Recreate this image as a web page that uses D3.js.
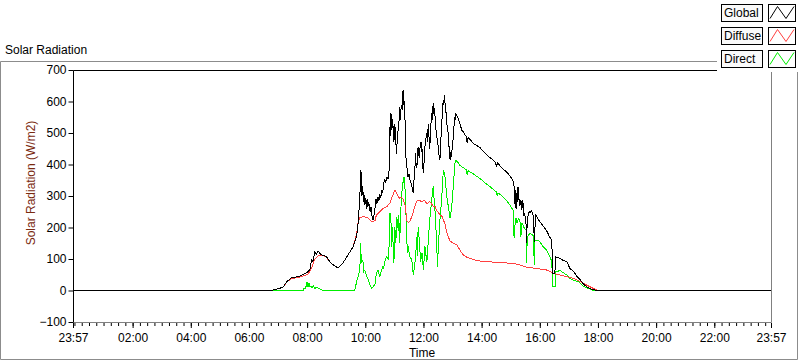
<!DOCTYPE html>
<html>
<head>
<meta charset="utf-8">
<script src="https://cdn.jsdelivr.net/npm/d3@7"></script>
<style>
  html, body { margin: 0; padding: 0; background: #ffffff; }
  svg { display: block; font-family: "Liberation Sans", Arial, sans-serif; }
</style>
</head>
<body>
<svg id="chart" width="800" height="361"></svg>
<script>
// ---- Data (time in minutes after midnight, value in W/m2) ----
const seriesNames = ["Global", "Diffuse", "Direct"];
const seriesColors = ["#000000", "#ff4040", "#00ee00"];

const globalData = [[-3,0],[403,0],[414,3],[424,7],[431,12],[438,28],[448,41],[462,44],[472,51],[482,60],[486,68],[489,97],[492,92],[496,123],[499,116],[503,125],[507,117],[510,113],[515,112],[520,107],[527,91],[534,81],[541,74],[544,73],[548,77],[555,90],[562,107],[568,122],[575,139],[582,171],[586,224],[589,309],[591,383],
[593,300],[595,330],[596,280],[597,310],[599,270],[601,295],[603,260],[604,290],[605,265],[607,280],[610,250],[612,265],[614,235],[616,224],[618,240],[620,260],[622,290],[624,275],[626,298],[628,285],[630,305],[632,295],[634,320],[636,310],[638,340],[640,351],[642,345],[645,360],[647,355],[649,380],
[650,430],[651,520],[652,490],[653,562],[654,540],[655,510],[656,545],[657,530],[658,490],[659,470],[660,500],[661,530],[663,470],[665,435],[666,500],[667,480],[668,530],[669,510],[670,560],[671,583],[672,550],[673,541],[674,590],[676,573],[677,610],[678,637],[679,590],[680,600],[681,560],[682,541],[683,450],[684,420],[685,404],[688,361],[690,370],[692,351],[694,345],[696,330],[699,309],
[700,340],[701,360],[702,372],[703,410],[704,435],[705,390],[707,400],[708,440],[709,457],[710,430],[712,420],[713,455],[715,470],[716,440],[717,450],[718,400],[720,372],[721,400],[722,430],[723,457],[725,480],[727,499],[728,470],[730,530],[731,500],[733,450],[735,520],[737,562],[738,540],[740,594],[741,560],[743,580],[745,520],[747,499],[749,470],[751,457],[752,430],[754,414],[756,480],[758,531],[759,570],[761,605],[762,590],[763,620],[764,600],[766,583],[767,550],[768,531],[770,510],[771,500],[773,450],[775,414],[776,440],[778,425],[780,470],[782,488],[783,520],[785,552],[786,540],[787,562],
[792,545],[795,531],[799,509],[802,504],[806,494],[809,488],[810,470],[812,485],[816,480],[823,467],[830,460],[837,453],[843,442],[850,432],[857,422],[863,415],[867,410],[871,395],[873,405],[878,396],[885,385],[892,375],[898,365],[905,348],[907,330],[908,275],[909,320],[911,260],[912,310],[913,280],[915,330],[917,290],[919,270],[921,287],[923,256],[925,287],[927,240],[929,245],[932,205],[933,150],[934,224],[936,240],[938,250],[940,248],[943,252],[946,240],[949,155],[950,200],[952,240],[956,229],[960,218],[967,205],[974,190],[981,168],[985,158],[986,55],[991,55],[993,107],[1002,102],[1008,96],[1016,91],[1022,70],[1029,62],[1036,46],[1043,35],[1050,20],[1057,12],[1064,6],[1072,2],[1081,0],[1437,0]];

const diffuseData = [[-3,0],[403,0],[414,3],[424,7],[431,12],[438,27],[448,38],[462,41],[472,46],[482,52],[489,70],[496,100],[503,110],[510,110],[515,110],[520,105],[527,91],[534,81],[541,74],[544,73],[548,77],[555,90],[562,107],[568,122],[575,139],[582,180],[585,213],[589,232],
[596,234],[604,232],[610,224],[613,218],[620,222],[623,240],[630,250],[637,261],[644,266],[651,277],[654,293],[657,303],[661,319],[665,308],[668,298],[671,293],[675,295],[678,290],[682,270],[684,245],[685,224],[689,215],[692,220],[696,235],[699,250],[702,266],[706,282],[709,287],[716,283],[723,285],[727,275],[733,282],[740,268],[744,266],[747,255],[754,240],[758,236],[761,224],[764,213],[768,187],[771,171],[775,157],[782,150],[789,144],[795,129],[802,113],[809,106],[816,102],[830,95],[850,91],[871,90],[885,88],[905,86],[919,81],[933,74],[954,70],[974,65],[988,55],[1002,49],[1016,44],[1029,39],[1043,28],[1057,17],[1070,7],[1081,0],[1437,0]];

const directData = [[-3,0],[403,0],[472,0],[474,8],[476,5],[478,14],[480,28],[481,20],[482,10],[484,23],[486,12],[488,15],[490,8],[493,14],[496,7],[500,10],[504,6],[508,4],[512,0],[578,0],
[579,7],[583,33],[587,55],[589,75],[590,150],[592,90],[595,97],[597,61],[599,65],[603,44],[605,40],[610,17],[613,7],[616,12],[620,20],[623,55],[626,65],[630,45],[632,55],[636,76],[638,70],[640,91],[644,107],[647,100],[649,140],[651,245],[653,220],[654,139],[656,200],[657,160],[659,86],[661,200],[663,150],[665,234],[668,190],[669,240],[671,150],[673,250],[676,320],[678,345],[680,361],[683,300],[685,181],[687,118],[689,140],[691,110],[696,97],[699,49],[701,70],[704,110],[706,171],[708,110],[709,203],[712,150],[714,90],[717,120],[720,65],[723,140],[727,90],[730,160],[733,224],[737,287],[740,330],[744,250],[747,160],[749,76],[751,150],[754,224],[758,300],[761,383],[764,370],[768,298],[771,270],[775,229],[778,260],[782,340],[785,404],[787,414],[792,405],[795,398],[802,390],[809,383],[810,368],[812,380],[823,370],[837,355],[850,338],[857,330],[863,322],[871,312],[872,300],[874,310],[885,296],[892,285],[898,272],[905,255],[907,166],[909,210],[911,230],[913,215],[916,228],[919,224],[921,171],[923,215],[926,205],[929,195],[932,192],[933,86],[934,171],[940,181],[946,175],[949,81],[950,160],[956,160],[960,155],[967,139],[974,128],[981,107],[985,91],[986,12],[992,12],[993,60],[1002,63],[1008,57],[1016,49],[1022,39],[1029,33],[1040,28],[1050,14],[1064,4],[1070,0],[1437,0]];

const xTickMinutes = [-3,120,240,360,480,600,720,840,960,1080,1200,1320,1437];
const xTickLabels = ["23:57","02:00","04:00","06:00","08:00","10:00","12:00","14:00","16:00","18:00","20:00","22:00","23:57"];
const yTickValues = [-100,0,100,200,300,400,500,600,700];

// ---- Layout ----
const svg = d3.select("#chart");
const L = 73, R = 771, T = 70, B = 322;
const x = d3.scaleLinear().domain([-3, 1437]).range([L, R]);
const y = d3.scaleLinear().domain([-100, 700]).range([B, T]);

// outer frame
svg.append("path").attr("d", `M0.5,359.5 V61.5 H717`).attr("fill","none").attr("stroke","#8c8c8c");
svg.append("path").attr("d", `M0.5,359.5 H797.5 V72`).attr("fill","none").attr("stroke","#8c8c8c");

svg.append("text").attr("x", 5).attr("y", 54).attr("font-size", 12).attr("fill","#000").text("Solar Radiation");

// plot background
svg.append("rect").attr("x", L).attr("y", T).attr("width", R-L).attr("height", B-T).attr("fill","#ffffff");

// clip
svg.append("clipPath").attr("id","clip").append("rect").attr("x", L).attr("y", T).attr("width", R-L).attr("height", B-T);

const line = d3.line().x(d => x(d[0])).y(d => y(d[1]));
const plotG = svg.append("g").attr("clip-path","url(#clip)");
[[directData, seriesColors[2]], [diffuseData, seriesColors[1]], [globalData, seriesColors[0]]].forEach(([data, col]) => {
  plotG.append("path").datum(data).attr("d", line).attr("fill","none").attr("stroke", col)
    .attr("stroke-width", 1).attr("stroke-linejoin","miter").attr("shape-rendering","crispEdges");
});

// plot border
svg.append("path").attr("d", `M${L+0.5},${B} V${T+0.5} H${R}`).attr("fill","none").attr("stroke","#000");
svg.append("path").attr("d", `M${R+0.5},${T} V${B+0.5} H${L}`).attr("fill","none").attr("stroke","#808080");

// y axis
const yAxis = d3.axisLeft(y).tickValues(yTickValues).tickSize(5).tickSizeOuter(0).tickPadding(2);
const yG = svg.append("g").attr("transform", `translate(${L+0.5},0)`).call(yAxis);
yG.select(".domain").remove();
yG.selectAll("text").attr("font-size", 12).attr("font-family", "Liberation Sans, Arial, sans-serif").attr("fill", "#000");
yG.selectAll("line").attr("stroke", "#000");

// x axis: minor ticks every 15 minutes
const minorTicks = d3.range(0, 1440, 15);
const xMinor = d3.axisBottom(x).tickValues(minorTicks).tickSize(3).tickFormat("");
const xMinG = svg.append("g").attr("transform", `translate(0,${B+1})`).call(xMinor);
xMinG.select(".domain").remove();
xMinG.selectAll("line").attr("stroke", "#000");

const xAxis = d3.axisBottom(x).tickValues(xTickMinutes).tickSize(5).tickPadding(5)
  .tickFormat((d, i) => xTickLabels[i]);
const xG = svg.append("g").attr("transform", `translate(0,${B+1})`).call(xAxis);
xG.select(".domain").remove();
xG.selectAll("text").attr("font-size", 12).attr("font-family", "Liberation Sans, Arial, sans-serif").attr("fill", "#000");
xG.selectAll("line").attr("stroke", "#000");

// axis titles
svg.append("text").attr("x", (L+R)/2).attr("y", 357).attr("text-anchor","middle").attr("font-size", 12).attr("fill","#000").text("Time");
svg.append("text").attr("transform", "translate(35,183) rotate(-90)").attr("text-anchor","middle").attr("font-size", 12).attr("fill","#7a2a10").text("Solar Radiation (W/m2)");

// legend
const lg = svg.append("g");
lg.append("rect").attr("x", 717).attr("y", 0).attr("width", 83).attr("height", 72).attr("fill", "#ffffff");
seriesNames.forEach((name, i) => {
  const top = 4 + i * 23;
  lg.append("rect").attr("x", 721.5).attr("y", top + 0.5).attr("width", 41).attr("height", 17).attr("fill", "#fafafa").attr("stroke", "#000");
  lg.append("text").attr("x", 724).attr("y", top + 13).attr("font-size", 12).attr("fill", "#000").text(name);
  lg.append("rect").attr("x", 768.5).attr("y", top + 0.5).attr("width", 27).attr("height", 17).attr("fill", "#ffffff").attr("stroke", "#000");
  lg.append("path").attr("d", `M770,${top+14.5} L777.5,${top+2.5} L786,${top+14.5} L794,${top+2.5}`)
    .attr("fill", "none").attr("stroke", seriesColors[i]).attr("stroke-width", 1);
});
</script>
</body>
</html>
